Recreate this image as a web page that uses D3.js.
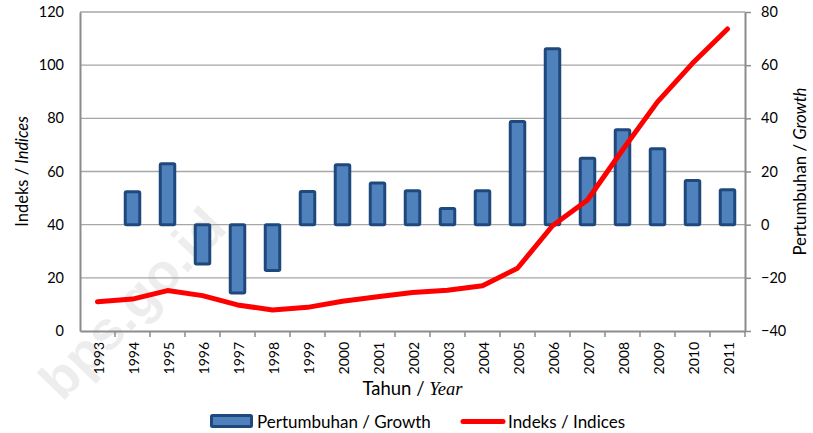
<!DOCTYPE html>
<html>
<head>
<meta charset="utf-8">
<script src="https://cdn.jsdelivr.net/npm/d3@7"></script>
<style>
  html, body { margin: 0; padding: 0; background: #fff; }
  svg { display: block; font-family: Lato, "Open Sans", sans-serif; }
</style>
</head>
<body>
<svg id="chart" width="813" height="433"></svg>
<script>
const years = ["1993","1994","1995","1996","1997","1998","1999","2000","2001","2002","2003","2004","2005","2006","2007","2008","2009","2010","2011"];
const growth = [null, 12.4, 22.9, -14.8, -25.7, -17.2, 12.5, 22.5, 15.7, 12.8, 6.1, 12.8, 38.8, 66.2, 25.0, 35.7, 28.6, 16.6, 13.1];
const indices = [11.0, 12.0, 15.2, 13.3, 9.8, 7.9, 8.9, 11.2, 12.9, 14.5, 15.3, 17.0, 23.6, 39.6, 49.3, 68.1, 86.2, 100.7, 113.6];
const leftTicks = [0, 20, 40, 60, 80, 100, 120];
const rightTicks = [-40, -20, 0, 20, 40, 60, 80];

const svg = d3.select("#chart");
const L = 80, R = 745, T = 12, B = 331;

const x = d3.scaleBand().domain(years).range([L, R]).padding(0);
const yL = d3.scaleLinear().domain([0, 120]).range([B, T]);
const yR = d3.scaleLinear().domain([-40, 80]).range([B, T]);

// watermark (behind)
svg.append("text")
  .attr("transform", "translate(132,303) rotate(-46)")
  .attr("text-anchor", "middle").attr("dy", "0.35em")
  .attr("font-size", 54).attr("font-weight", "bold")
  .attr("font-family", "'Liberation Sans', Arial, sans-serif")
  .attr("fill", "#000").attr("fill-opacity", 0.07)
  .text("bps.go.id");

// gridlines
svg.append("g").selectAll("line").data(leftTicks.slice(1)).join("line")
  .attr("x1", L).attr("x2", R)
  .attr("y1", d => yL(d)).attr("y2", d => yL(d))
  .attr("stroke", "#a6a6a6").attr("stroke-width", 1.3);

// left axis
const gL = svg.append("g").attr("transform", `translate(${L},0)`)
  .call(d3.axisLeft(yL).tickValues(leftTicks).tickSize(0).tickPadding(16));
gL.select(".domain").attr("stroke", "#8c8c8c").attr("stroke-width", 2);
gL.selectAll("text").attr("font-size", 14.5).attr("fill", "#000").attr("font-family", "Lato, sans-serif");

// right axis
const gR = svg.append("g").attr("transform", `translate(${R},0)`)
  .call(d3.axisRight(yR).tickValues(rightTicks).tickSize(6).tickPadding(10).tickSizeOuter(0));
gR.select(".domain").attr("stroke", "#8c8c8c").attr("stroke-width", 2);
gR.selectAll(".tick line").attr("stroke", "#8c8c8c").attr("stroke-width", 1.5);
gR.selectAll("text").attr("font-size", 14.5).attr("fill", "#000").attr("font-family", "Lato, sans-serif");

// bottom axis
const gB = svg.append("g").attr("transform", `translate(0,${B})`)
  .call(d3.axisBottom(x).tickSize(0).tickSizeOuter(0));
gB.select(".domain").attr("stroke", "#8c8c8c").attr("stroke-width", 2);
gB.selectAll(".tick line").remove();
gB.selectAll(".tick text")
  .attr("font-size", 14).attr("fill", "#000").attr("font-family", "Lato, sans-serif")
  .attr("text-anchor", "end")
  .attr("transform", "rotate(-90)")
  .attr("x", -11).attr("y", 1.5).attr("dy", "0.36em");
// tick marks at category boundaries
const bounds = years.map(d => x(d)).concat([R]).slice(1);
svg.append("g").selectAll("line").data(bounds).join("line")
  .attr("x1", d => d).attr("x2", d => d)
  .attr("y1", B).attr("y2", B + 6)
  .attr("stroke", "#8c8c8c").attr("stroke-width", 1.5);

// bars
const bw = 14.5;
svg.append("g").selectAll("rect")
  .data(years.map((y, i) => ({ y, v: growth[i] })).filter(d => d.v !== null))
  .join("rect")
  .attr("x", d => x(d.y) + x.bandwidth() / 2 - bw / 2)
  .attr("width", bw)
  .attr("y", d => Math.min(yR(d.v), yR(0)))
  .attr("height", d => Math.abs(yR(d.v) - yR(0)))
  .attr("rx", 1.2)
  .attr("fill", "#4f81bd")
  .attr("stroke", "#1f497d")
  .attr("stroke-width", 3);

// line
const line = d3.line()
  .x((d, i) => x(years[i]) + x.bandwidth() / 2)
  .y(d => yL(d));
svg.append("path").datum(indices)
  .attr("d", line)
  .attr("fill", "none")
  .attr("stroke", "#ff0000")
  .attr("stroke-width", 5)
  .attr("stroke-linejoin", "round")
  .attr("stroke-linecap", "round");

// axis titles
const tl = svg.append("text")
  .attr("transform", `translate(28,${(T + B) / 2}) rotate(-90)`)
  .attr("text-anchor", "middle").attr("font-size", 16.5).attr("fill", "#000");
tl.append("tspan").text("Indeks / ");
tl.append("tspan").attr("font-style", "italic").text("Indices");

const tr = svg.append("text")
  .attr("transform", `translate(806,${(T + B) / 2}) rotate(-90)`)
  .attr("text-anchor", "middle").attr("font-size", 16.8).attr("fill", "#000");
tr.append("tspan").text("Pertumbuhan / ");
tr.append("tspan").attr("font-style", "italic").text("Growth");

const tx = svg.append("text")
  .attr("x", (L + R) / 2).attr("y", 395)
  .attr("text-anchor", "middle").attr("font-size", 18.5).attr("fill", "#000");
tx.append("tspan").text("Tahun / ");
tx.append("tspan").attr("font-style", "italic").attr("font-family", "'Liberation Serif', 'DejaVu Serif', serif").text("Year");

// legend
const lg = svg.append("g");
lg.append("rect").attr("x", 211.5).attr("y", 415.5).attr("width", 40).attr("height", 11)
  .attr("fill", "#4f81bd").attr("stroke", "#1f497d").attr("stroke-width", 3).attr("rx", 1);
lg.append("text").attr("x", 257).attr("y", 427.5).attr("font-size", 17).attr("fill", "#000")
  .text("Pertumbuhan / Growth");
lg.append("line").attr("x1", 463).attr("x2", 503).attr("y1", 421.5).attr("y2", 421.5)
  .attr("stroke", "#ff0000").attr("stroke-width", 5).attr("stroke-linecap", "round");
lg.append("text").attr("x", 508).attr("y", 427.5).attr("font-size", 17).attr("fill", "#000")
  .text("Indeks / Indices");
</script>
</body>
</html>
